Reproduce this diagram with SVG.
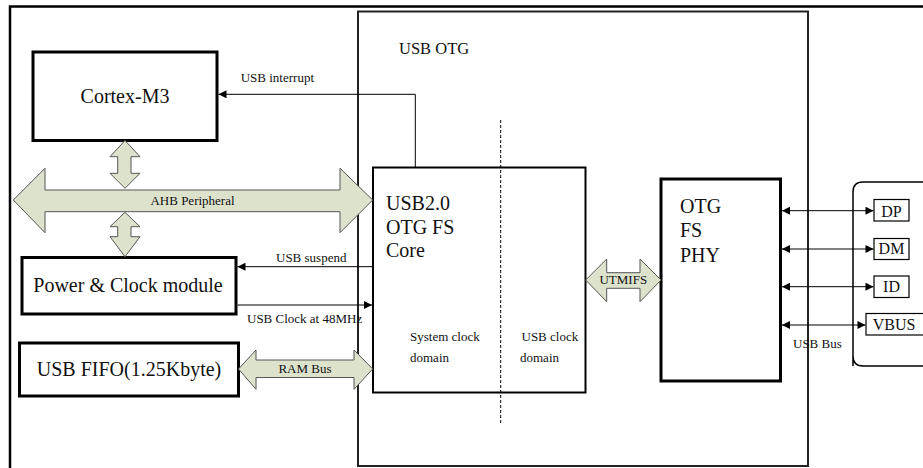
<svg xmlns="http://www.w3.org/2000/svg" width="923" height="468" viewBox="0 0 923 468">
<style>
text{fill:#111}
.big{font-size:20px}
.sm{font-size:13px}
.md{font-size:16px}
.thick{fill:#fff;stroke:#000;stroke-width:3}
.med{fill:#fff;stroke:#000;stroke-width:2}
.thin{fill:#fff;stroke:#000;stroke-width:1.2}
.blk{fill:#dde2cd;stroke:#555;stroke-width:1}
.ln{fill:none;stroke:#000;stroke-width:1}
</style>
<defs>
<marker id="ah" viewBox="0 0 10 10" refX="10" refY="5" markerWidth="9" markerHeight="8" markerUnits="userSpaceOnUse" orient="auto-start-reverse">
<path d="M0,0 L10,5 L0,10 z" fill="#000"/>
</marker>
</defs>
<rect width="923" height="468" fill="#fff"/>
<g font-family="Liberation Serif, Times New Roman, serif">
<rect id="frame" x="10" y="6.5" width="940" height="480" fill="none" stroke="#000" stroke-width="2.5"/>
<g id="usb-otg">
<rect x="358" y="11.5" width="450" height="454.5" fill="none" stroke="#222" stroke-width="2"/>
<text class="md" x="399" y="54" style="font-size:16.5px">USB OTG</text>
</g>
<g id="cortex">
<rect class="thick" x="33" y="52" width="184" height="88.5"/>
<text class="big" x="125" y="103" text-anchor="middle">Cortex-M3</text>
</g>
<g id="power">
<rect class="thick" x="22" y="257.5" width="214" height="56.5"/>
<text class="big" x="128" y="291.5" text-anchor="middle">Power &amp; Clock module</text>
</g>
<g id="fifo">
<rect class="thick" x="19.5" y="343" width="219" height="53"/>
<text class="big" x="129" y="376" text-anchor="middle">USB FIFO(1.25Kbyte)</text>
</g>
<g id="core">
<rect class="med" x="373" y="167.5" width="212.5" height="225"/>
<text class="big" x="386" y="210">USB2.0</text>
<text class="big" x="386" y="233.5">OTG FS</text>
<text class="big" x="386" y="257">Core</text>
<text class="sm" x="410" y="341">System clock</text>
<text class="sm" x="410" y="362">domain</text>
<text class="sm" x="521.5" y="341">USB clock</text>
<text class="sm" x="520" y="362">domain</text>
</g>
<g id="phy">
<rect class="thick" x="661" y="179" width="119.5" height="202"/>
<text class="big" x="680" y="213">OTG</text>
<text class="big" x="680" y="237">FS</text>
<text class="big" x="680" y="261.5">PHY</text>
</g>
<g id="connector">
<path d="M853,366 L853,192 Q853,182 863,182 L940,182 M940,366 L863,366 Q853,366 853,356" fill="none" stroke="#000" stroke-width="1.5"/>
<g id="dp"><rect class="thin" x="874" y="199.5" width="35" height="21.5"/><text class="md" x="891.5" y="216.5" text-anchor="middle">DP</text></g>
<g id="dm"><rect class="thin" x="874" y="238.5" width="35" height="21"/><text class="md" x="891.5" y="254" text-anchor="middle">DM</text></g>
<g id="id"><rect class="thin" x="874" y="276" width="35" height="21.5"/><text class="md" x="891.5" y="291.5" text-anchor="middle">ID</text></g>
<g id="vbus"><rect class="thin" x="866" y="313.5" width="60" height="21.5"/><text class="md" x="894" y="329.5" text-anchor="middle">VBUS</text></g>
</g>
<g id="connectors">
<path class="blk" d="M125,140.5 L140,156.7 L131,156.7 L131,173.3 L140,173.3 L125,188.3 L110,173.3 L117.7,173.3 L117.7,156.7 L110,156.7 Z"/>
<path class="blk" d="M125,212.3 L140,226.7 L131,226.7 L131,236.7 L140,236.7 L125,256.7 L110,236.7 L117.7,236.7 L117.7,226.7 L110,226.7 Z"/>
<path class="blk" d="M13.3,200 L45,168.3 L45,190 L340,190 L340,168.3 L372.7,200 L340,232.7 L340,211.7 L45,211.7 L45,232.7 Z"/>
<text class="sm" x="192.5" y="205" text-anchor="middle">AHB Peripheral</text>
<path class="blk" d="M238.5,369 L256,350 L256,360 L354,360 L354,350 L372.7,369 L354,389.3 L354,377.5 L256,377.5 L256,389.3 Z"/>
<text class="sm" x="305" y="372.7" text-anchor="middle">RAM Bus</text>
<path class="blk" d="M585.7,280 L606.7,259 L606.7,272.7 L640,272.7 L640,259 L661,280 L640,301.7 L640,288.3 L606.7,288.3 L606.7,301.7 Z"/>
<text class="sm" x="623.3" y="283.5" text-anchor="middle">UTMIFS</text>
<path class="ln" d="M415.3,167.5 L415.3,94.3 L218.5,94.3" marker-end="url(#ah)"/>
<text class="sm" x="240.7" y="81.7">USB interrupt</text>
<path class="ln" d="M373,266.7 L237.5,266.7" marker-end="url(#ah)"/>
<text class="sm" x="276" y="261.7">USB suspend</text>
<path class="ln" d="M237.5,305 L372,305" marker-end="url(#ah)"/>
<text class="sm" x="247" y="323">USB Clock at 48MHz</text>
<path class="ln" d="M782,210.7 L873.5,210.7" marker-start="url(#ah)" marker-end="url(#ah)"/>
<path class="ln" d="M782,249 L873.5,249" marker-start="url(#ah)" marker-end="url(#ah)"/>
<path class="ln" d="M782,286.7 L873.5,286.7" marker-start="url(#ah)" marker-end="url(#ah)"/>
<path class="ln" d="M782,325 L865.5,325" marker-start="url(#ah)" marker-end="url(#ah)"/>
<text class="sm" x="793" y="348">USB Bus</text>
<path d="M500.7,120 L500.7,423" fill="none" stroke="#000" stroke-width="1" stroke-dasharray="3,2"/>
</g>
</g>
</svg>
